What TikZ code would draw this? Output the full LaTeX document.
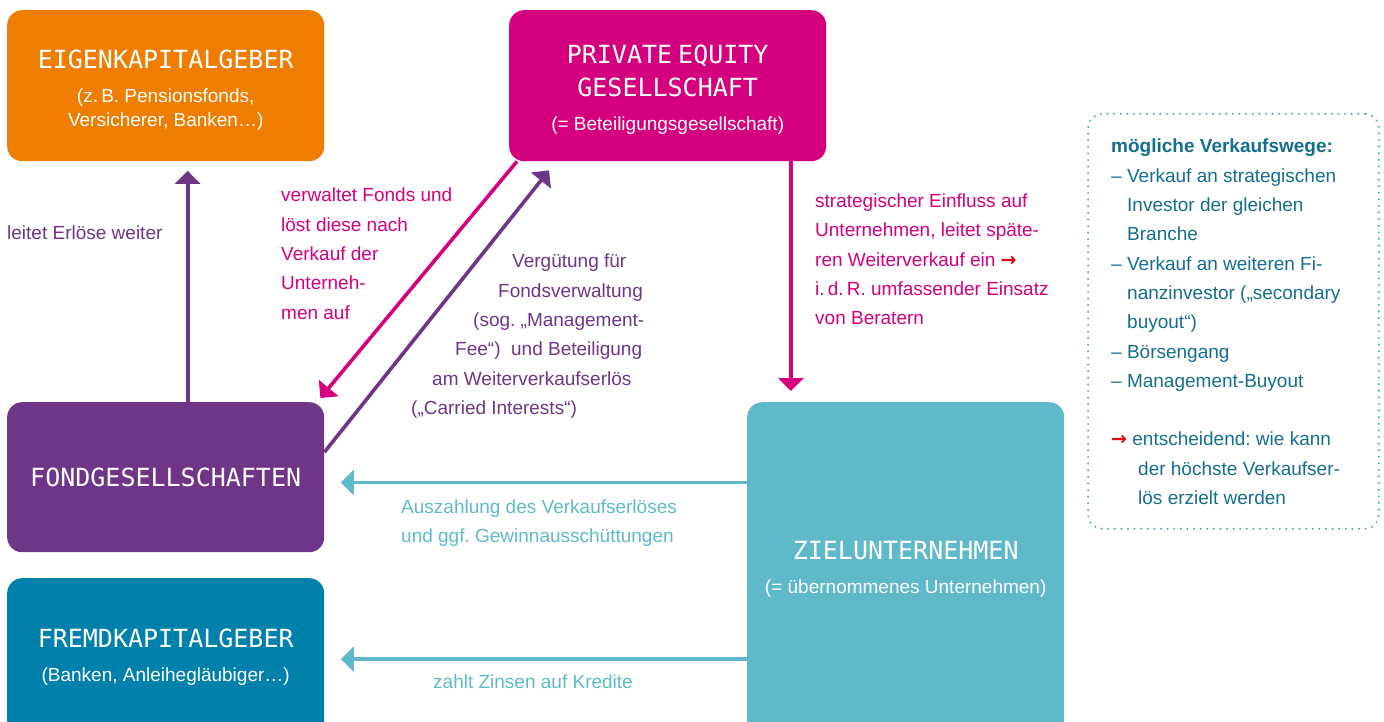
\documentclass[tikz,border=0pt]{standalone}
\usepackage{fontspec}
\setmainfont{Liberation Sans}
\newfontfamily\titlefont{DejaVu Sans Mono}
\newfontfamily\arrowfont{DejaVu Sans}
\usetikzlibrary{arrows.meta,positioning,calc}
\frenchspacing

\definecolor{egorange}{RGB}{239,125,0}
\definecolor{pemagenta}{RGB}{212,0,126}
\definecolor{fgpurple}{RGB}{111,53,135}
\definecolor{fkblue}{RGB}{0,129,171}
\definecolor{zuteal}{RGB}{95,185,201}
\definecolor{notetext}{RGB}{20,110,140}
\definecolor{notedots}{RGB}{77,165,184}
\definecolor{hintred}{RGB}{227,6,19}

\newcommand\ttl[1]{{\titlefont\fontsize{25}{30}\selectfont #1}}
\newcommand\lift{\rule{0pt}{27pt}}
\newcommand\hint{{\arrowfont\bfseries\color{hintred}→}}

\tikzset{
    %Define standard arrow tip
    >={Triangle[width=25pt,length=13pt]},
    %Define style for boxes
    actor/.style={
           rectangle,
           rounded corners=15pt,
           anchor=north west,
           minimum width=317pt,
           inner sep=0pt,
           text=white,
           font=\fontsize{19}{24}\selectfont,
           align=center},
    annote/.style={
          anchor=north west,
          inner sep=0pt,
          align=left,
          font=\fontsize{19}{29.3}\selectfont
    },
    % Define arrow style
    flow/.style={
           ->,
           line width=3.6pt},
}

\begin{document}
\begin{tikzpicture}[x=1pt,y=-1pt]
\useasboundingbox (0,0) rectangle (1384,722);
\node[actor, fill=egorange, minimum height=151pt] (eigen) at (7,10)
     {\lift\ttl{EIGENKAPITALGEBER}\\[10pt](z.\,B. Pensionsfonds,\\Versicherer, Banken…)};
\node[actor, fill=pemagenta, minimum height=151pt] (pe) at (509,10)
     {\lift\ttl{PRIVATE\hspace{-9pt} EQUITY}\\[8.7pt]\ttl{GESELLSCHAFT}\\[10pt](= Beteiligungsgesellschaft)};
\node[actor, fill=fgpurple, minimum height=150pt] (fond) at (7,402) {\ttl{FONDGESELLSCHAFTEN}};
\node[actor, fill=fkblue, minimum height=158pt] (fremd) at (7,578)
     {\ttl{FREMDKAPITALGEBER}\\[10pt](Banken, Anleihegläubiger…)};
\node[actor, fill=zuteal, minimum height=334pt] (ziel) at (747,402)
     {\ttl{ZIELUNTERNEHMEN}\\[10pt](= übernommenes Unternehmen)};
% labels
\node[annote, text=fgpurple, anchor=base west] (leitet) at (7,240) {leitet Erlöse weiter};
\node[annote, text=pemagenta] (verwaltet) at (281,188)
     {verwaltet Fonds und\\löst diese nach\\Verkauf der\\Unterneh-\\men auf};
\node[annote, text=fgpurple] (fee) at (411,254)
     {\hspace*{101pt}Vergütung für\\\hspace*{87pt}Fondsverwaltung\\\hspace*{62pt}(sog. „Management-\\
      \hspace*{44pt}Fee“)~ und Beteiligung\\\hspace*{21pt}am Weiterverkaufserlös\\(„Carried Interests“)};
\node[annote, text=pemagenta] (einfluss) at (815,193.5)
     {strategischer Einfluss auf\\Unternehmen, leitet späte-\\ren Weiterverkauf ein \hint\\
      i.\,d.\,R. umfassender Einsatz\\von Beratern};
\node[annote, text=zuteal] (auszahlung) at (401,499.5)
     {Auszahlung des Verkaufserlöses\\und ggf. Gewinnausschüttungen};
\node[annote, text=zuteal, anchor=base west] (zinsen) at (433,688) {zahlt Zinsen auf Kredite};
% exit routes
\node[draw=notedots, line width=2.2pt, dash pattern=on 0pt off 6.6pt, line cap=round,
      rounded corners=14pt, anchor=north west, minimum width=290.7pt, minimum height=415pt,
      inner sep=0pt] (wege) at (1087,112.7) {};
\node[annote, text=notetext, below right=26.3pt and 24pt of wege.north west] (wegetext)
     {\textbf{mögliche Verkaufswege:}\\– Verkauf an strategischen\\\hspace*{16pt}Investor der gleichen\\
      \hspace*{16pt}Branche\\– Verkauf an weiteren Fi-\\\hspace*{16pt}nanzinvestor („secondary\\
      \hspace*{16pt}buyout“)\\– Börsengang\\– Management-Buyout\\[29.3pt]
      \hint\ entscheidend: wie kann\\\hspace*{27pt}der höchste Verkaufser-\\\hspace*{27pt}lös erzielt werden};
% flows
\draw[flow, color=fgpurple] ([xshift=22pt]fond.north) -- ([xshift=22pt,yshift=-9.5pt]eigen.south);
\draw[flow, color=pemagenta] ([xshift=8pt]pe.south west) -- ([xshift=-4pt,yshift=4pt]fond.north east);
\draw[flow, color=fgpurple] ([yshift=25pt]fond.east) -- ([xshift=40pt,yshift=-9pt]pe.south west);
\draw[flow, color=pemagenta] ([xshift=-35.5pt]pe.south east) -- ($(pe.south east |- ziel.north)+(-35.5,-11)$);
\coordinate (payout) at ($(fond.east)+(16.5,5.3)$);
\coordinate (interest) at ($(fremd.east)+(16.5,2)$);
\draw[flow, color=zuteal] (ziel.west |- payout) -- (payout);
\draw[flow, color=zuteal] (ziel.west |- interest) -- (interest);
\end{tikzpicture}
\end{document}
